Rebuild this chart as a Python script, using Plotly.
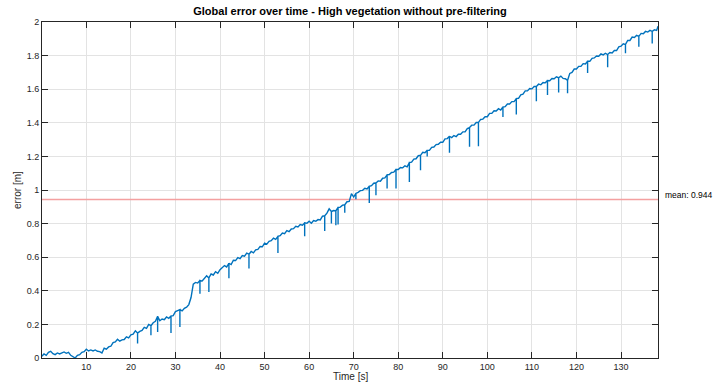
import plotly.graph_objects as go

# Global position error, sampled every 0.5 s (metres)
sample_step = 0.5
base_error = [
    0.010, 0.024, 0.016, 0.034, 0.040, 0.026, 0.020, 0.030, 0.024, 0.032,
    0.036, 0.028, 0.034, 0.016, 0.008, 0.000, 0.016, 0.020, 0.034, 0.038,
    0.052, 0.042, 0.048, 0.042, 0.048, 0.040, 0.038, 0.030, 0.058, 0.052,
    0.066, 0.070, 0.092, 0.096, 0.112, 0.100, 0.108, 0.110, 0.126, 0.120,
    0.138, 0.142, 0.162, 0.148, 0.158, 0.164, 0.182, 0.176, 0.200, 0.192,
    0.210, 0.218, 0.248, 0.222, 0.232, 0.228, 0.244, 0.236, 0.250, 0.252,
    0.276, 0.282, 0.288, 0.280, 0.296, 0.302, 0.318, 0.360, 0.440, 0.450,
    0.446, 0.462, 0.458, 0.474, 0.490, 0.476, 0.500, 0.494, 0.514, 0.504,
    0.526, 0.536, 0.550, 0.542, 0.564, 0.556, 0.582, 0.580, 0.598, 0.592,
    0.610, 0.606, 0.624, 0.618, 0.634, 0.626, 0.644, 0.646, 0.664, 0.662,
    0.684, 0.678, 0.694, 0.698, 0.714, 0.706, 0.724, 0.728, 0.744, 0.740,
    0.758, 0.752, 0.768, 0.770, 0.784, 0.780, 0.794, 0.790, 0.804, 0.802,
    0.814, 0.802, 0.818, 0.814, 0.824, 0.822, 0.844, 0.846, 0.862, 0.888,
    0.872, 0.878, 0.876, 0.896, 0.898, 0.910, 0.912, 0.930, 0.932, 0.978,
    0.958, 0.980, 0.986, 0.996, 0.998, 1.010, 1.006, 1.022, 1.026, 1.040,
    1.042, 1.054, 1.052, 1.070, 1.072, 1.090, 1.092, 1.104, 1.106, 1.122,
    1.122, 1.134, 1.132, 1.144, 1.138, 1.164, 1.166, 1.184, 1.186, 1.204,
    1.206, 1.224, 1.222, 1.236, 1.236, 1.254, 1.256, 1.270, 1.272, 1.284,
    1.284, 1.304, 1.306, 1.320, 1.312, 1.324, 1.318, 1.332, 1.332, 1.346,
    1.346, 1.366, 1.372, 1.386, 1.386, 1.402, 1.402, 1.420, 1.422, 1.436,
    1.436, 1.456, 1.456, 1.472, 1.470, 1.484, 1.476, 1.494, 1.496, 1.512,
    1.512, 1.526, 1.526, 1.544, 1.546, 1.566, 1.570, 1.590, 1.590, 1.604,
    1.602, 1.616, 1.616, 1.630, 1.626, 1.640, 1.638, 1.652, 1.650, 1.664,
    1.662, 1.674, 1.668, 1.678, 1.664, 1.662, 1.652, 1.694, 1.700, 1.720,
    1.720, 1.736, 1.736, 1.752, 1.750, 1.766, 1.766, 1.784, 1.786, 1.798,
    1.796, 1.810, 1.804, 1.814, 1.806, 1.818, 1.816, 1.830, 1.830, 1.852,
    1.856, 1.870, 1.866, 1.890, 1.890, 1.910, 1.908, 1.920, 1.914, 1.932,
    1.930, 1.944, 1.940, 1.950, 1.944, 1.954, 1.950,
]
final_time = 138.3
final_error = 1.975

# Short drop-outs of the error (single samples, on the 0.5 s grid)
dropout_time = [
    21.5, 24.5, 26.0, 29.0, 31.0, 35.5, 37.5, 42.0, 46.5, 53.0,
    59.0, 63.5, 65.0, 66.0, 66.5, 68.0, 70.5, 73.5, 75.0, 77.5,
    79.5, 82.5, 85.0, 86.5, 91.5, 96.0, 98.0, 103.5, 106.5, 111.0,
    113.5, 116.0, 118.0, 122.5, 127.0, 131.0, 134.0, 137.0,
]
dropout_error = [
    0.086, 0.135, 0.155, 0.149, 0.185, 0.383, 0.393, 0.475, 0.532, 0.625,
    0.725, 0.756, 0.800, 0.790, 0.795, 0.864, 0.945, 0.923, 0.969, 1.009,
    1.009, 1.048, 1.118, 1.200, 1.221, 1.257, 1.260, 1.435, 1.450, 1.528,
    1.565, 1.580, 1.576, 1.696, 1.731, 1.814, 1.853, 1.872,
]

mean_error = 0.944

x_ticks = [10, 20, 30, 40, 50, 60, 70, 80, 90, 100, 110, 120, 130]
y_ticks = [0, 0.2, 0.4, 0.6, 0.8, 1, 1.2, 1.4, 1.6, 1.8, 2]
y_tick_labels = ["0", "0.2", "0.4", "0.6", "0.8", "1", "1.2", "1.4", "1.6", "1.8", "2"]

# Build the plotted series: each drop-out is a vertical excursion at its sample
dropouts = {round(t / sample_step): v for t, v in zip(dropout_time, dropout_error)}
time_s, error_m = [], []
for i, v in enumerate(base_error):
    t = i * sample_step
    time_s.append(t)
    error_m.append(v)
    if i in dropouts:
        time_s += [t, t]
        error_m += [dropouts[i], v]
time_s.append(final_time)
error_m.append(final_error)

FONT = "Liberation Sans, Arial, Helvetica, sans-serif"
AXIS_COLOR = "#262626"
PLOT_L, PLOT_R, PLOT_T, PLOT_B = 42, 658, 22, 358
W, H = 713, 382

fig = go.Figure()
fig.add_trace(go.Scatter(
    x=[0, final_time], y=[mean_error, mean_error], mode="lines",
    line=dict(color="#F4A0A0", width=1.5),
    showlegend=False, hoverinfo="skip",
))
fig.add_trace(go.Scatter(
    x=time_s, y=error_m, mode="lines",
    line=dict(color="#0072BD", width=1.4),
    showlegend=False, hoverinfo="skip",
))

axis_common = dict(
    showline=True, linecolor=AXIS_COLOR, linewidth=1, mirror="ticks",
    ticks="inside", ticklen=6, tickwidth=1, tickcolor=AXIS_COLOR,
    showgrid=True, gridcolor="#E3E3E3", gridwidth=1, zeroline=False,
    tickfont=dict(family=FONT, size=9, color=AXIS_COLOR),
    automargin=False,
)

plot_w = PLOT_R - PLOT_L
plot_h = PLOT_B - PLOT_T

fig.update_layout(
    width=W, height=H,
    margin=dict(l=PLOT_L, r=W - PLOT_R, t=PLOT_T, b=H - PLOT_B),
    paper_bgcolor="white", plot_bgcolor="white",
    title=dict(
        text="<b>Global error over time - High vegetation without pre-filtering</b>",
        font=dict(family=FONT, size=11, color="black"),
        x=(PLOT_L + PLOT_R) / 2 / W, xanchor="center", y=1 - 11.5 / H, yanchor="middle",
    ),
    xaxis=dict(range=[0.05, final_time], tickvals=x_ticks, **axis_common),
    yaxis=dict(range=[0, 2], tickvals=y_ticks, ticktext=y_tick_labels, **axis_common),
    annotations=[
        dict(
            x=1, xref="paper", xshift=5, y=mean_error, yref="y", yshift=4,
            text=f"mean: {mean_error}", showarrow=False,
            xanchor="left", yanchor="middle",
            font=dict(family=FONT, size=8.5, color="black"),
        ),
        dict(
            x=0.5, xref="paper", y=-(376 - PLOT_B) / plot_h, yref="paper",
            text="Time [s]", showarrow=False, xanchor="center", yanchor="middle",
            font=dict(family=FONT, size=10, color=AXIS_COLOR),
        ),
        dict(
            x=-(PLOT_L - 17) / plot_w, xref="paper", y=0.5, yref="paper",
            text="error [m]", textangle=-90, showarrow=False,
            xanchor="center", yanchor="middle",
            font=dict(family=FONT, size=10, color=AXIS_COLOR),
        ),
    ],
)

fig.write_html("out.html")
